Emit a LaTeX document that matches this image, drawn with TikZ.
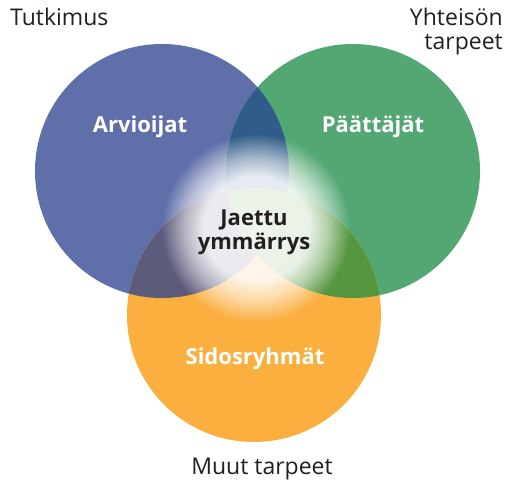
\documentclass[tikz,border=0pt]{standalone}
\usepackage{fontspec}
\setmainfont{Open Sans}
\usetikzlibrary{fadings}

\definecolor{arvblue}{HTML}{5F6FA9}
\definecolor{paagreen}{HTML}{52A773}
\definecolor{sidorange}{HTML}{FAAF3F}
\definecolor{bluegreen}{HTML}{2F5C88}
\definecolor{blueorange}{HTML}{5D5B7C}
\definecolor{greenorange}{HTML}{55963F}
\definecolor{inktext}{HTML}{231F20}

\pgfdeclareradialshading{glowshade}{\pgfpointorigin}{color(0bp)=(white); color(14bp)=(black!3); color(19bp)=(black!40); color(25bp)=(black); color(50bp)=(black)}
\pgfdeclarefading{glow}{\pgfuseshading{glowshade}}

\tikzset{
  label/.style={font=\fontsize{23}{24}\selectfont, text=inktext, inner sep=0pt},
  inlabel/.style={font=\bfseries\fontsize{22}{24}\selectfont, text=white, inner sep=0pt}
}

\begin{document}
\begin{tikzpicture}[x=1pt,y=-1pt]
\useasboundingbox (0,0) rectangle (512,481);

% circles
\fill[arvblue] (162,171) circle (127);
\fill[paagreen] (353,171) circle (127);
\fill[sidorange] (254,315) circle (127);

% overlaps
\begin{scope}
  \clip (162,171) circle (127);
  \fill[bluegreen] (353,171) circle (127);
  \fill[blueorange] (254,315) circle (127);
\end{scope}
\begin{scope}
  \clip (353,171) circle (127);
  \fill[greenorange] (254,315) circle (127);
\end{scope}

% shared glow
\fill[white, opacity=0.9, path fading=glow] (256,228) circle (94);

% labels
\node[inlabel, anchor=base] (arvioijat) at (140,133) {Arvioijat};
\node[inlabel, anchor=base] (paattajat) at (373,133) {Päättäjät};
\node[inlabel, anchor=base] (sidosryhmat) at (255,365) {Sidosryhmät};
\node[inlabel, text=inktext, align=center] (jaettu) at (254,232) {Jaettu\\ymmärrys};

\node[label, anchor=base west] (tutkimus) at (10,26) {Tutkimus};
\node[label, anchor=north east, align=right] (yhteison) at (503,8) {Yhteisön\\tarpeet};
\node[label, anchor=base] (muut) at (262,475) {Muut tarpeet};
\end{tikzpicture}
\end{document}
